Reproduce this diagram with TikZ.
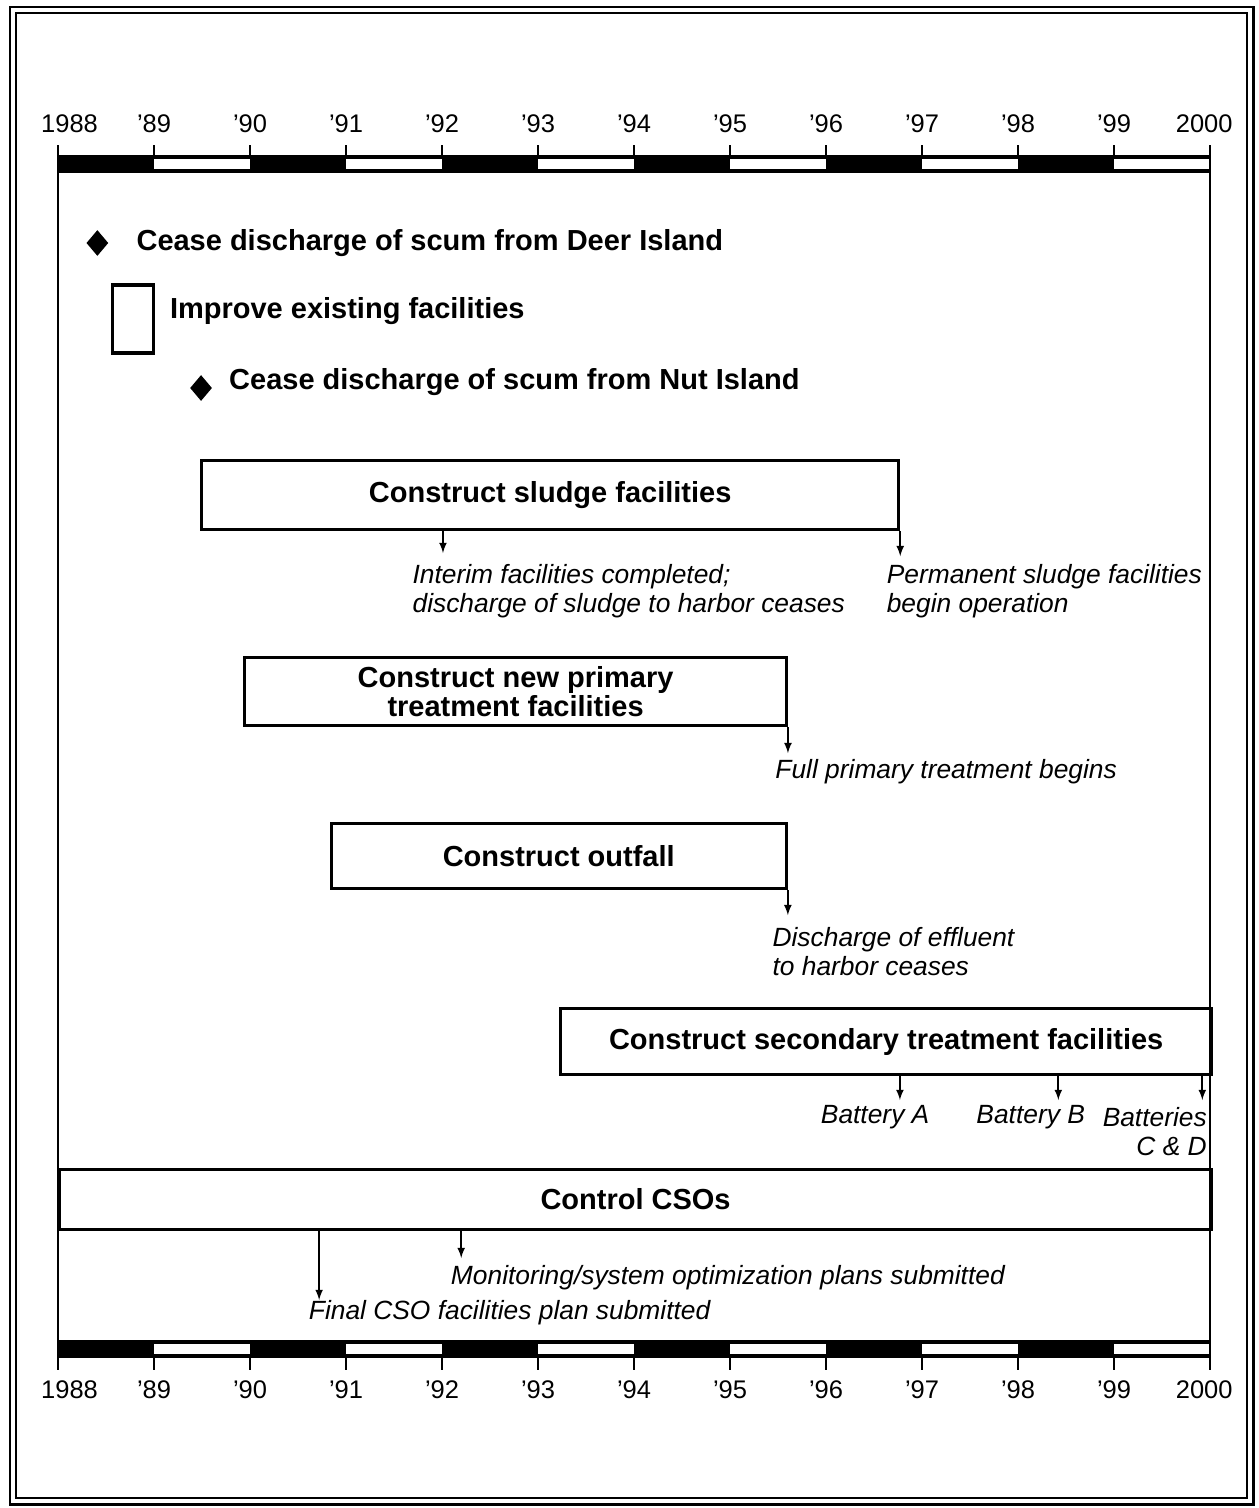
\documentclass[tikz,border=0pt]{standalone}
\usepackage{fontspec}
\setmainfont{Liberation Sans}
\usepackage{tikz}
\usetikzlibrary{positioning,shapes.geometric}

\begin{document}
\begin{tikzpicture}[x=1.92cm, y=1cm, >=latex,
    taskbox/.style={draw, line width=1.8pt, anchor=north west, inner sep=0pt,
        align=center, font=\bfseries\fontsize{16.5}{16}\selectfont},
    head/.style={inner sep=0pt, font=\bfseries\fontsize{16.5}{16}\selectfont},
    note/.style={inner sep=0pt, align=left, font=\itshape\fontsize{15}{16.5}\selectfont},
    yr/.style={inner sep=0pt, font=\fontsize{14.5}{16}\selectfont},
    gem/.style={diamond, fill=black, inner sep=0pt, minimum width=0.44cm, minimum height=0.52cm}]
    \useasboundingbox (-0.6042,0) rectangle (12.5,-30.16);
    % page border
    \draw[line width=1.7pt] (-0.5,-0.14) rectangle (12.448,-30.08);
    \draw[line width=0.7pt] (-0.4375,-0.26) rectangle (12.385,-29.96);

    % year bars, top and bottom
    \fill (0,-3.1) rectangle (12,-3.46);
    \fill (0,-26.8) rectangle (12,-27.16);
    \foreach \i in {1,3,...,11} {
        \fill[white] (\i,-3.18) rectangle (\i+1,-3.38);
        \fill[white] (\i,-26.88) rectangle (\i+1,-27.08);
    }
    \foreach \i/\yr/\dx in {0/1988/0.12,1/'89/0,2/'90/0,3/'91/0,4/'92/0,5/'93/0,6/'94/0,
        7/'95/0,8/'96/0,9/'97/0,10/'98/0,11/'99/0,12/2000/-0.06} {
        \draw[line width=1pt] (\i,-2.9) -- (\i,-3.1);
        \draw[line width=1pt] (\i,-27.16) -- (\i,-27.4);
        \node[yr] (top\i) at (\i+\dx,-2.48) {\yr};
        \node[yr] (bot\i) at (\i+\dx,-27.8) {\yr};
    }
    \draw[line width=1.6pt] (0,-2.9) -- (0,-27.4);
    \draw[line width=1.6pt] (12,-2.9) -- (12,-27.4);

    % early steps
    \node[gem] (deer) at (0.41,-4.86) {};
    \node[head, right=0.55cm of deer] (deertxt) {Cease discharge of scum from Deer Island};
    \node[draw, line width=1.8pt, inner sep=0pt, minimum width=0.81cm, minimum height=1.36cm] (imp) at (0.78,-6.38) {};
    \node[head, right=0.3cm of imp, yshift=0.16cm] (imptxt) {Improve existing facilities};
    \node[gem] (nut) at (1.49,-7.76) {};
    \node[head, right=0.33cm of nut, yshift=0.12cm] (nuttxt) {Cease discharge of scum from Nut Island};

    % sludge
    \node[taskbox, minimum width=13.94cm, minimum height=1.38cm] (sludge) at (1.48,-9.18) {Construct sludge facilities};
    \coordinate (interim) at (4.01,-11.06);
    \coordinate[below=0.5cm of sludge.south east] (perm);
    \draw[->, line width=1pt] (sludge.south -| interim) -- (interim);
    \draw[->, line width=1pt] (sludge.south east) -- (perm);
    \node[note, anchor=west] (interimtxt) at (3.69,-11.83) {Interim facilities completed;\\discharge of sludge to harbor ceases};
    \node[note, anchor=west] (permtxt) at (8.63,-11.83) {Permanent sludge facilities\\begin operation};

    % primary
    \node[taskbox, minimum width=10.83cm, minimum height=1.36cm] (primary) at (1.93,-13.12) {Construct new primary\\treatment facilities};
    \coordinate[below=0.52cm of primary.south east] (fullp);
    \draw[->, line width=1pt] (primary.south east) -- (fullp);
    \node[note, anchor=west] (fullptxt) at (7.47,-15.44) {Full primary treatment begins};

    % outfall
    \node[taskbox, minimum width=9.10cm, minimum height=1.3cm] (outfall) at (2.83,-16.44) {Construct outfall};
    \coordinate[below=0.5cm of outfall.south east] (effl);
    \draw[->, line width=1pt] (outfall.south east) -- (effl);
    \node[note, anchor=west] (effltxt) at (7.44,-19.04) {Discharge of effluent\\to harbor ceases};

    % secondary
    \node[taskbox, minimum width=13.02cm, minimum height=1.32cm] (secondary) at (5.22,-20.14) {Construct secondary treatment facilities};
    \coordinate (batA) at (8.77,-22.0);
    \coordinate (batB) at (10.42,-22.0);
    \coordinate (batCD) at (11.92,-22.0);
    \draw[->, line width=1pt] (secondary.south -| batA) -- (batA);
    \draw[->, line width=1pt] (secondary.south -| batB) -- (batB);
    \draw[->, line width=1pt] (secondary.south -| batCD) -- (batCD);
    \node[note, anchor=east] (batAtxt) at (9.08,-22.34) {Battery A};
    \node[note, anchor=east] (batBtxt) at (10.7,-22.34) {Battery B};
    \node[note, anchor=east, align=right] (batCDtxt) at (11.97,-22.63) {Batteries\\C \& D};

    % CSOs
    \node[taskbox, minimum width=23.04cm, minimum height=1.2cm] (cso) at (0,-23.36) {Control CSOs};
    \coordinate (final) at (2.72,-26.0);
    \coordinate (monitor) at (4.20,-25.16);
    \draw[->, line width=1pt] (cso.south -| final) -- (final);
    \draw[->, line width=1pt] (cso.south -| monitor) -- (monitor);
    \node[note, anchor=west] (monitortxt) at (4.09,-25.56) {Monitoring/system optimization plans submitted};
    \node[note, anchor=west] (finaltxt) at (2.61,-26.26) {Final CSO facilities plan submitted};
\end{tikzpicture}
\end{document}
